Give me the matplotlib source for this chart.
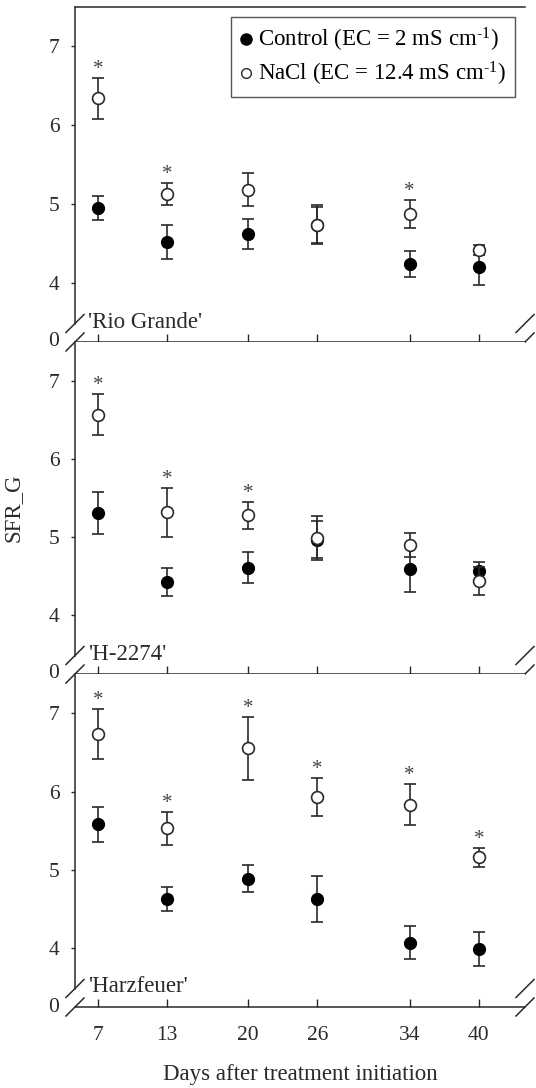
import matplotlib
matplotlib.use('Agg')
import matplotlib.pyplot as plt
from matplotlib.lines import Line2D

plt.rcParams['font.family'] = ['Liberation Serif', 'DejaVu Serif']
plt.rcParams['mathtext.fontset'] = 'custom'
plt.rcParams['mathtext.rm'] = 'Liberation Serif'
plt.rcParams['mathtext.it'] = 'Liberation Serif:italic'

# --- data ---
days = [7, 13, 20, 26, 34, 40]
cultivars = ["'Rio Grande'", "'H-2274'", "'Harzfeuer'"]

ctrl_mean = [
    [4.95, 4.52, 4.62, 4.73, 4.24, 4.20],
    [5.31, 4.43, 4.61, 4.97, 4.60, 4.57],
    [5.58, 4.63, 4.89, 4.63, 4.07, 3.99],
]
ctrl_se = [
    [0.15, 0.22, 0.19, 0.23, 0.17, 0.23],
    [0.27, 0.18, 0.20, 0.24, 0.30, 0.12],
    [0.22, 0.15, 0.17, 0.29, 0.21, 0.22],
]
nacl_mean = [
    [6.34, 5.13, 5.18, 4.74, 4.87, 4.42],
    [6.57, 5.32, 5.28, 4.99, 4.90, 4.44],
    [6.73, 5.53, 6.55, 5.93, 5.83, 5.16],
]
nacl_se = [
    [0.26, 0.14, 0.21, 0.25, 0.18, 0.06],
    [0.26, 0.31, 0.17, 0.28, 0.15, 0.18],
    [0.32, 0.21, 0.40, 0.24, 0.26, 0.12],
]
# significant difference (asterisk above NaCl)
signif = [
    [1, 1, 0, 0, 1, 0],
    [1, 1, 1, 0, 0, 0],
    [1, 1, 1, 1, 1, 1],
]

INK = '#2a2a2a'
FS = 16.5
TFS = 15.5
Y_LO, Y_HI = 3.25, 7.5

fig = plt.figure(figsize=(5.36, 10.88), dpi=100)
W, H = 536, 1088
left, right = 75 / W, 525 / W
tops = [7, 342, 674]
bots = [342, 674, 1007]

axes = []
for i in range(3):
    ax = fig.add_axes([left, 1 - bots[i] / H, right - left, (bots[i] - tops[i]) / H])
    axes.append(ax)
    ph = bots[i] - tops[i]
    pw = 525 - 75

    ax.errorbar(days, ctrl_mean[i], yerr=ctrl_se[i], fmt='o', ms=8.5,
                mfc='black', mec='black', ecolor=INK, elinewidth=1.2,
                capsize=4.3, capthick=1.2, zorder=3)
    ax.errorbar(days, nacl_mean[i], yerr=nacl_se[i], fmt='o', ms=8.5,
                mfc='white', mec=INK, mew=1.2, ecolor=INK, elinewidth=1.2,
                capsize=4.3, capthick=1.2, zorder=4)

    for d, m, s, f in zip(days, nacl_mean[i], nacl_se[i], signif[i]):
        if f:
            ax.annotate('*', (d, m + s), xytext=(0, 3), textcoords='offset points',
                        ha='center', va='baseline', fontsize=15, color='#444')

    ax.set_xlim(5, 44)
    ax.set_ylim(Y_LO, Y_HI)
    ax.set_yticks([4, 5, 6, 7])
    ax.set_xticks(days)
    ax.tick_params(axis='y', direction='out', length=3, width=1, colors=INK,
                   labelsize=TFS, pad=8)
    ax.tick_params(axis='x', direction='in', length=6, width=1, colors=INK,
                   labelsize=TFS, pad=14)
    if i < 2:
        ax.tick_params(axis='x', labelbottom=False)

    gap = 18.5 / ph
    ax.spines['right'].set_visible(False)
    ax.spines['top'].set_visible(i == 0)
    ax.spines['left'].set_bounds(Y_LO + gap * (Y_HI - Y_LO), Y_HI)
    for sp in ax.spines.values():
        sp.set_color(INK)
        sp.set_linewidth(1.1)

    # axis break marks
    dx, dy = 9 / pw, 9 / ph
    for xc in (0, 1):
        for yc in (0, gap):
            ax.plot([xc - dx, xc + dx], [yc - dy, yc + dy], transform=ax.transAxes,
                    color=INK, lw=1.1, clip_on=False, zorder=5)
    ax.text(-16 / pw, 0, '0', transform=ax.transAxes, ha='right', va='center',
            fontsize=TFS, color=INK)
    ax.text(13 / pw, 20 / ph, cultivars[i], transform=ax.transAxes, ha='left',
            va='center', fontsize=FS, color=INK)

handles = [
    Line2D([], [], ls='none', marker='o', ms=8, mfc='black', mec='black'),
    Line2D([], [], ls='none', marker='o', ms=7, mfc='white', mec=INK, mew=1.0),
]
labels = [r'Control (EC = 2 mS cm$^{\text{-1}}$)', r'NaCl (EC = 12.4 mS cm$^{\text{-1}}$)']
leg = axes[0].legend(handles, labels, loc='upper right', bbox_to_anchor=(0.978, 0.97),
                     fontsize=FS, frameon=True, fancybox=False, borderaxespad=0,
                     handlelength=0.5, handletextpad=0.3, borderpad=0.4,
                     labelspacing=0.25)
leg.get_frame().set_edgecolor(INK)
leg.get_frame().set_linewidth(1.0)

axes[1].set_ylabel('SFR_G', fontsize=FS, color=INK)
axes[1].yaxis.set_label_coords(-0.115, 0.5)
axes[2].set_xlabel('Days after treatment initiation', fontsize=FS, color=INK)
axes[2].xaxis.set_label_coords(0.5, -0.17)

fig.savefig('out.png', dpi=100, facecolor='white')
